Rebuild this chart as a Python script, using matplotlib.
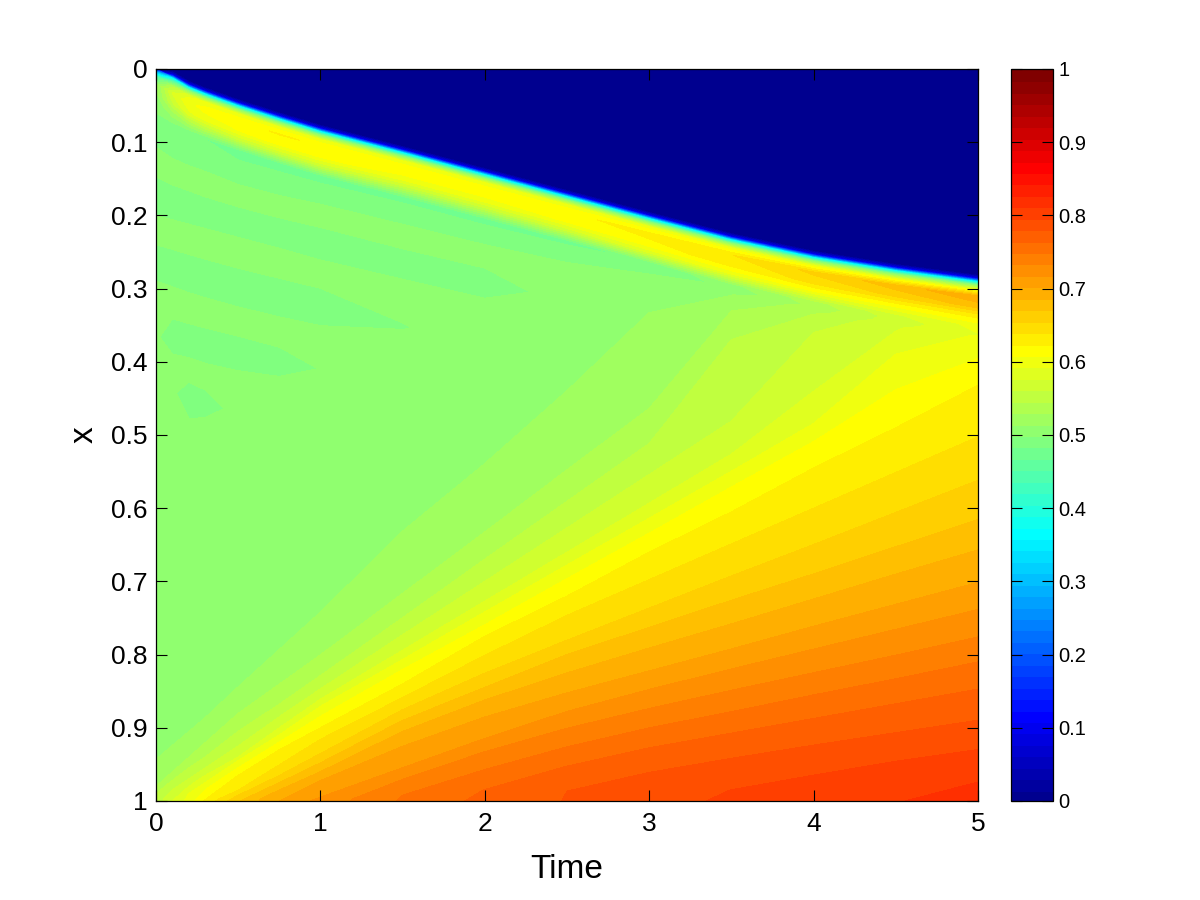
import numpy as np
import matplotlib
matplotlib.use("Agg")
import matplotlib.pyplot as plt
from matplotlib.colors import ListedColormap, LinearSegmentedColormap, Normalize
from matplotlib.cm import ScalarMappable

plt.rcParams['font.family'] = ['Liberation Sans', 'DejaVu Sans']

# Time columns
T = [0, .1, .2, .3, .5, .75, 1, 1.5, 2, 2.5, 3, 3.5, 4, 4.5, 5]
# Position of the sharp front, read at each time
front = [0, .013, .026, .035, .051, .069, .086, .115, .145, .175, .205, .234, .258, .276, .291]

# Rows that ride on the front: distance below the front, value at each time
front_offsets = [-.010, -.005, -.002, 0, .0045, .011, .02, .034, .045, .06]
z_o0 = [0] * 15
z_o1 = [0, .09, .09, .09, .09, .09, .09, .09, .09, .09, .09, .09, .09, .09, .09]
z_o2 = [0, .25, .25, .25, .25, .25, .25, .25, .25, .25, .25, .25, .25, .25, .25]
z_o3 = [.1, .37, .37, .37, .37, .37, .37, .37, .37, .37, .37, .37, .37, .37, .37]
z_o4 = [.3, .46, .5, .5, .5, .5, .5, .5, .5, .5, .5, .5, .5, .5, .5]
z_o5 = [.45, .54, .59, .6, .6, .6, .6, .6, .6, .6, .6, .6, .6, .6, .6]
z_o6 = [.51, .58, .605, .615, .622, .626, .624, .62, .62, .622, .63, .64, .66, .68, .70]
z_o7 = [.51, .56, .59, .60, .608, .612, .612, .605, .605, .61, .62, .63, .645, .66, .678]
z_o8 = [.505, .53, .545, .555, .565, .57, .57, .56, .56, .57, .585, .60, .612, .622, .635]
z_o9 = [.5, .5, .49, .484, .478, .478, .478, .478, .478, .478, .487, .512, .54, .575, .60]

# Ripple rows: depth and value at each time
y_a2 = [.085, .1, .11, .115, .13, .145, .16, .19, .22, .245, .268, .302, .325, .342, .362]
z_a2 = [.49, .49, .49, .49, .487, .487, .487, .49, .49, .49, .49, .504, .535, .568, .593]
y_r1 = [.125, .14, .15, .16, .175, .19, .2, .23, .256, .28, .29, .303, .3255, .3425, .3622]
z_r1 = [.508, .508, .508, .508, .508, .508, .508, .508, .508, .508, .508, .507, .536, .57, .5935]
y_t1 = [.175, .181, .187, .193, .205, .22, .237, .265, .292, .315, .295, .304, .326, .343, .3624]
z_t1 = [.49, .49, .49, .49, .49, .49, .49, .49, .49, .508, .508, .508, .5365, .57, .5935]
y_r2 = [.22, .226, .232, .238, .25, .265, .28, .305, .33, .335, .30, .305, .3265, .3435, .3626]
z_r2 = [.508, .508, .508, .508, .508, .508, .508, .508, .508, .508, .508, .509, .537, .57, .5935]
y_t2 = [.265, .272, .28, .287, .30, .312, .324, .352, .37, .355, .305, .3055, .327, .344, .3628]
z_t2 = [.49, .49, .49, .49, .49, .49, .49, .499, .508, .508, .508, .51, .5375, .57, .5935]
y_r3 = [.31, .318, .326, .333, .345, .36, .372, .385, .40, .375, .31, .306, .3275, .3445, .363]
z_r3 = [.508, .508, .508, .508, .508, .508, .508, .508, .508, .508, .508, .511, .538, .571, .5935]
y_t3 = [.365, .37, .375, .38, .39, .40, .41, .42, .43, .395, .315, .3065, .328, .345, .3632]
z_t3 = [.503, .49, .49, .49, .49, .492, .5005, .508, .508, .508, .508, .512, .5385, .571, .5935]
y_r4 = [.41, .405, .41, .42, .43, .44, .44, .455, .46, .41, .32, .307, .3285, .3455, .3634]
z_r4 = [.508, .508, .508, .508, .508, .508, .508, .508, .508, .508, .508, .513, .539, .571, .5935]
y_t4 = [.455, .44, .45, .455, .47, .48, .475, .49, .49, .42, .325, .3075, .329, .346, .3636]
z_t4 = [.508, .503, .49, .493, .505, .508, .508, .508, .508, .508, .508, .514, .5395, .571, .5935]
y_p = [.5, .5, .5, .5, .52, .55, .58, .56, .52, .43, .33, .308, .3295, .3465, .3638]
z_p = [.508, .508, .508, .508, .508, .508, .508, .508, .508, .508, .508, .515, .54, .571, .5935]

# Fan rows, following the contour lines: value and depth at each time
y_f516 = [.965, .945, .925, .905, .86, .805, .75, .635, .54, .44, .333, .31, .33, .347, .364]
z_f516 = [.516, .516, .516, .516, .516, .516, .516, .516, .516, .516, .516, .516, .54, .572, .5938]
y_f531 = [.98, .96, .94, .92, .88, .84, .80, .716, .632, .547, .463, .33, .332, .35, .3645]
z_f531 = [.531, .531, .531, .531, .531, .531, .531, .531, .531, .531, .531, .531, .543, .574, .5945]
y_f547 = [.99, .972, .955, .94, .905, .868, .829, .75, .67, .591, .512, .37, .335, .352, .365]
z_f547 = [.547, .547, .547, .547, .547, .547, .547, .547, .547, .547, .547, .547, .547, .576, .595]
y_f562 = [1, .985, .97, .955, .925, .885, .847, .773, .70, .627, .554, .481, .36, .354, .3655]
z_f562 = [.5625, .5625, .5625, .5625, .5625, .5625, .5625, .5625, .5625, .5625, .5625, .5625, .5625, .577, .5955]
y_f578 = [1, .995, .98, .965, .94, .90, .861, .794, .727, .66, .593, .526, .44, .358, .366]
z_f578 = [.578, .578, .578, .578, .578, .578, .578, .578, .578, .578, .578, .578, .578, .578, .596]
y_f594 = [1, 1, .99, .975, .945, .91, .871, .807, .742, .678, .614, .55, .485, .39, .37]
z_f594 = [.594, .594, .594, .594, .594, .594, .594, .594, .594, .594, .594, .594, .594, .594, .598]

lower_levels = [.61, .625, .64, .656, .672, .6875, .703, .719, .734, .75, .766, .781, .797, .8125]
y_f610 = [1, 1, 1, .985, .955, .92, .885, .821, .76, .697, .635, .572, .51, .44, .397]
y_f625 = [1, 1, 1, .998, .965, .93, .90, .84, .775, .72, .66, .605, .545, .49, .432]
y_f640 = [1, 1, 1, 1, .985, .95, .915, .858, .80, .745, .696, .647, .598, .549, .50]
y_f656 = [1, 1, 1, 1, .992, .965, .935, .875, .825, .78, .736, .692, .649, .605, .561]
y_f672 = [1, 1, 1, 1, 1, .975, .948, .89, .845, .80, .763, .726, .69, .653, .616]
y_f688 = [1, 1, 1, 1, 1, .985, .96, .905, .862, .825, .791, .758, .724, .69, .657]
y_f703 = [1, 1, 1, 1, 1, .995, .972, .925, .885, .852, .822, .792, .761, .731, .701]
y_f719 = [1, 1, 1, 1, 1, 1, .995, .955, .915, .878, .848, .82, .793, .766, .739]
y_f734 = [1, 1, 1, 1, 1, 1, 1, .97, .932, .90, .873, .848, .824, .80, .775]
y_f750 = [1, 1, 1, 1, 1, 1, 1, .992, .957, .926, .90, .878, .855, .833, .81]
y_f766 = [1, 1, 1, 1, 1, 1, 1, 1, .985, .953, .928, .908, .888, .868, .848]
y_f781 = [1, 1, 1, 1, 1, 1, 1, 1, 1, .982, .96, .941, .923, .906, .889]
y_f797 = [1, 1, 1, 1, 1, 1, 1, 1, 1, 1, 1, .985, .965, .946, .93]
y_f812 = [1, 1, 1, 1, 1, 1, 1, 1, 1, 1, 1, 1, 1, 1, .974]
# Values along the bottom edge x = 1
z_bottom = [.55, .578, .60, .628, .67, .703, .724, .752, .77, .782, .792, .799, .806, .8115, .82]

x_ticks = [0, 1, 2, 3, 4, 5]
y_ticks = [0, .1, .2, .3, .4, .5, .6, .7, .8, .9, 1]
y_labels = ['0', '0.1', '0.2', '0.3', '0.4', '0.5', '0.6', '0.7', '0.8', '0.9', '1']
cb_ticks = [0, .1, .2, .3, .4, .5, .6, .7, .8, .9, 1]

# --- mesh assembly ---
T_a = np.array(T)
s = np.array(front)
rows_y = [np.zeros(15)]
rows_z = [np.zeros(15)]
for off, z in zip(front_offsets, [z_o0, z_o1, z_o2, z_o3, z_o4, z_o5, z_o6, z_o7, z_o8, z_o9]):
    rows_y.append(np.clip(s + off, 0, 1))
    rows_z.append(np.array(z, float))
for y, z in [(y_a2, z_a2), (y_r1, z_r1), (y_t1, z_t1), (y_r2, z_r2), (y_t2, z_t2),
             (y_r3, z_r3), (y_t3, z_t3), (y_r4, z_r4), (y_t4, z_t4), (y_p, z_p),
             (y_f516, z_f516), (y_f531, z_f531), (y_f547, z_f547), (y_f562, z_f562),
             (y_f578, z_f578), (y_f594, z_f594)]:
    rows_y.append(np.array(y, float))
    rows_z.append(np.minimum(np.array(z, float), np.array(z_bottom)))
for lev, y in zip(lower_levels, [y_f610, y_f625, y_f640, y_f656, y_f672, y_f688, y_f703,
                                 y_f719, y_f734, y_f750, y_f766, y_f781, y_f797, y_f812]):
    rows_y.append(np.array(y, float))
    rows_z.append(np.minimum(lev, np.array(z_bottom)))
rows_y.append(np.ones(15))
rows_z.append(np.array(z_bottom))
Y = np.maximum.accumulate(np.array(rows_y), axis=0)
Z = np.array(rows_z)
X = np.tile(T_a, (Y.shape[0], 1))

# MATLAB-style 64-step jet
base = LinearSegmentedColormap.from_list('mjet', [(0, (0, 0, .5)), (.125, (0, 0, 1)), (.375, (0, 1, 1)),
                                                   (.625, (1, 1, 0)), (.875, (1, 0, 0)), (1, (.5, 0, 0))], N=1024)
cmap = ListedColormap(base(np.arange(1, 65) / 64))
norm = Normalize(0, 1)

fig = plt.figure(figsize=(12, 9), dpi=100)
W, H = 1200, 900
ax = fig.add_axes([156 / W, 1 - 801 / H, 822 / W, 732 / H])
ax.contourf(X, Y, Z, levels=np.linspace(0, 1, 65), cmap=cmap, norm=norm)
ax.set_xlim(0, 5)
ax.set_ylim(1, 0)
ax.set_xticks(x_ticks)
ax.set_yticks(y_ticks)
ax.set_yticklabels(y_labels)
ax.tick_params(direction='in', length=8, width=.8, top=True, right=True, labelsize=19, color='k')
ax.tick_params(axis='x', pad=8)
ax.tick_params(axis='y', pad=6)
ax.set_xlabel('Time', fontsize=24, labelpad=13)
ax.set_ylabel('x', fontsize=24, labelpad=8)
for sp in ax.spines.values():
    sp.set_linewidth(.9)

cax = fig.add_axes([1011 / W, 1 - 801 / H, 42 / W, 732 / H])
cb = fig.colorbar(ScalarMappable(norm=norm, cmap=cmap), cax=cax)
cb.set_ticks(cb_ticks)
cb.set_ticklabels(['0', '0.1', '0.2', '0.3', '0.4', '0.5', '0.6', '0.7', '0.8', '0.9', '1'])
cb.ax.tick_params(direction='in', length=8, width=.8, left=True, right=True, labelsize=14.5, pad=4)
cb.outline.set_linewidth(.9)
cb.solids.set_edgecolor('face')

fig.savefig('out.png', dpi=100)
